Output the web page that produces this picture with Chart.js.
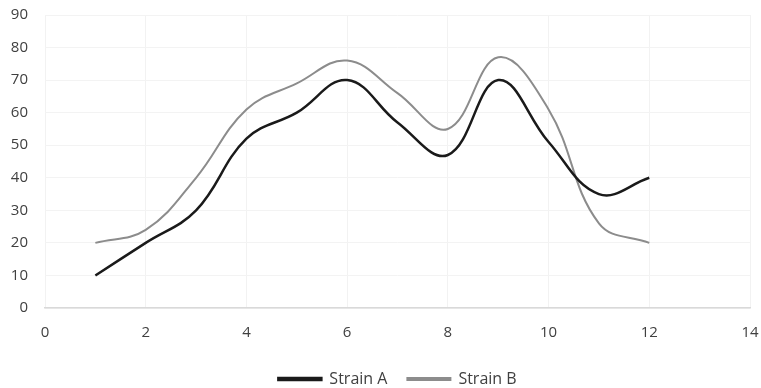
<!DOCTYPE html>
<html>
<head>
<meta charset="utf-8">
<script src="https://cdn.jsdelivr.net/npm/chart.js@4/dist/chart.umd.min.js"></script>
<style>
  html, body { margin: 0; padding: 0; background: #fff; }
  #wrap { width: 761px; height: 388px; }
</style>
</head>
<body>
<div id="wrap"><canvas id="c" width="761" height="388"></canvas></div>
<script>
// Sample points (x = time step) for both strains
const xValues = [1, 2, 3, 4, 5, 6, 7, 8, 9, 10, 11, 12];
const strainA = [10, 20, 30, 52, 60, 70, 57, 47, 70, 51, 35, 40];
const strainB = [20, 24, 40, 61, 69, 76, 66, 55, 77, 61, 26, 20];
const seriesNames = ['Strain A', 'Strain B'];

const toPoints = (ys) => xValues.map((x, i) => ({ x: x, y: ys[i] }));

const tickFont = { family: 'Open Sans', size: 15 };

new Chart(document.getElementById('c'), {
  type: 'line',
  data: {
    datasets: [
      {
        label: seriesNames[0],
        data: toPoints(strainA),
        borderColor: '#1a1a1a',
        backgroundColor: '#1a1a1a',
        borderWidth: 2.5,
        pointRadius: 0,
        tension: 0.4
      },
      {
        label: seriesNames[1],
        data: toPoints(strainB),
        borderColor: '#8c8c8c',
        backgroundColor: '#8c8c8c',
        borderWidth: 2,
        pointRadius: 0,
        tension: 0.4
      }
    ]
  },
  options: {
    responsive: false,
    animation: false,
    layout: { autoPadding: false, padding: { top: 15, right: 11, left: 0, bottom: -9 } },
    plugins: {
      tooltip: { enabled: false },
      legend: {
        position: 'bottom',
        fullSize: false,
        labels: {
          boxWidth: 43,
          boxHeight: 2,
          color: '#404040',
          font: { family: 'Open Sans', size: 16 },
          padding: 20
        }
      }
    },
    scales: {
      x: {
        type: 'linear',
        min: 0,
        max: 14,
        afterFit: (s) => { s.height = 43; s.paddingLeft = 0; s.paddingRight = 0; },
        ticks: { stepSize: 2, color: '#404040', font: tickFont, padding: 16 },
        grid: { color: '#f2f2f2', drawTicks: false },
        border: { color: '#d9d9d9', width: 1.5 }
      },
      y: {
        min: 0,
        max: 90,
        afterFit: (s) => { s.width = 45; s.paddingTop = 0; s.paddingBottom = 0; },
        ticks: { stepSize: 10, color: '#404040', font: tickFont, padding: 17 },
        grid: { color: '#f3f3f3', drawTicks: false },
        border: { display: false }
      }
    }
  }
});
</script>
</body>
</html>
